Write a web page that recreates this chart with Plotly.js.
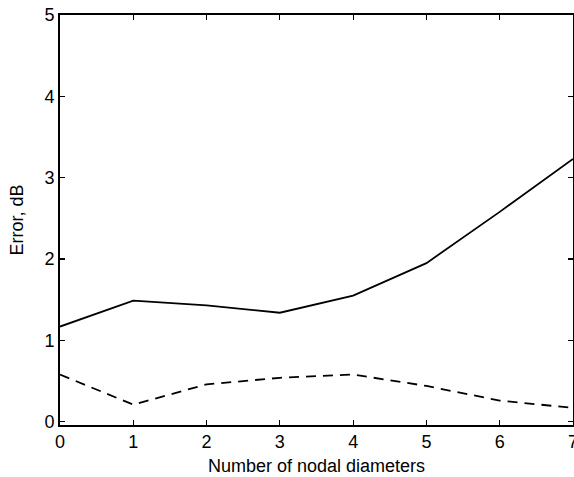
<!DOCTYPE html>
<html><head><meta charset="utf-8">
<script src="https://cdn.plot.ly/plotly-3.0.1.min.js"></script>
<style>html,body{margin:0;padding:0;background:#fff}</style>
</head><body><div id="chart" style="width:574px;height:477px"></div>
<script>
const nodalDiameters = [0, 1, 2, 3, 4, 5, 6, 7];
const errorSolid = [1.17, 1.49, 1.43, 1.34, 1.55, 1.95, 2.58, 3.23];
const errorDashed = [0.58, 0.21, 0.46, 0.54, 0.58, 0.44, 0.26, 0.17];
const xTicks = [0, 1, 2, 3, 4, 5, 6, 7];
const yTicks = [0, 1, 2, 3, 4, 5];

const font = {family: 'Liberation Sans, Arial, sans-serif', size: 18, color: '#000'};
const traces = [
  {x: nodalDiameters, y: errorSolid, mode: 'lines', line: {color: '#000', width: 1.8, dash: 'solid'}, cliponaxis: false},
  {x: nodalDiameters, y: errorDashed, mode: 'lines', line: {color: '#000', width: 1.8, dash: '10px,7px'}, cliponaxis: false}
];
const axisCommon = {showline: true, mirror: 'ticks', linecolor: '#000', linewidth: 1.8,
  ticks: 'inside', ticklen: 5, tickwidth: 1.2, tickcolor: '#000', showgrid: false, zeroline: false,
  tickfont: font, ticklabeloverflow: 'allow'};
const layout = {
  width: 574, height: 477,
  margin: {l: 60, r: 1, t: 15, b: 52},
  showlegend: false,
  paper_bgcolor: '#fff', plot_bgcolor: '#fff',
  font: font,
  xaxis: Object.assign({}, axisCommon, {range: [0, 7], tickvals: xTicks,
    title: {text: 'Number of nodal diameters', font: font, standoff: 8}}),
  yaxis: Object.assign({}, axisCommon, {range: [-0.04, 5], tickvals: yTicks,
    title: {text: 'Error, dB', font: font, standoff: 16}})
};
Plotly.newPlot('chart', traces, layout, {displayModeBar: false, staticPlot: true});
</script></body></html>
